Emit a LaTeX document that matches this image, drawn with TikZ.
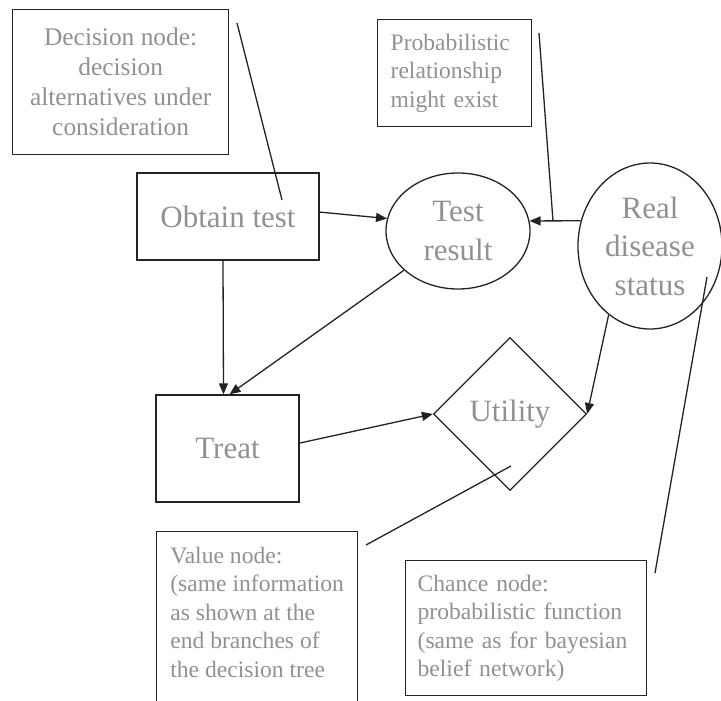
\documentclass[tikz,border=0pt]{standalone}
\usepackage{fontspec}
\setmainfont{Liberation Serif}
\usetikzlibrary{shapes.geometric,arrows.meta,calc}
\definecolor{inkline}{RGB}{35,35,35}
\definecolor{inktext}{RGB}{145,145,145}

\begin{document}
\begin{tikzpicture}[x=1pt,y=-1pt,
  edge/.style={draw=inkline,line width=1.3pt},
  arr/.style={edge,-{Triangle[length=11pt,width=9pt]}},
  box/.style={draw=inkline,line width=1.3pt,rectangle,inner sep=0pt,text=inktext},
  note/.style={box,anchor=north west},
  big/.style={font=\fontsize{31}{38.5}\selectfont},
  small/.style={font=\fontsize{23.6}{28.5}\selectfont},
  chance/.style={draw=inkline,line width=1.3pt,ellipse,inner sep=0pt,text=inktext,big,align=center},
]
\useasboundingbox (0,0) rectangle (721,701);

% explanatory notes
\node[note,minimum width=216,minimum height=145,align=center,
      font=\fontsize{25.4}{30}\selectfont] (decnote) at (12,9)
  {Decision node:\\decision\\alternatives under\\consideration};
\node[note,small,minimum width=154,minimum height=107,text width=128,
      inner xsep=13pt,align=left] (probnote) at (377,19)
  {Probabilistic\\relationship\\might exist};
\node[note,small,minimum width=201,minimum height=189,align=left] (valnote) at (156,531)
  {Value node:\\(same information\\as shown at the\\end branches of\\the decision tree\\\mbox{}};
\node[note,small,minimum width=241,minimum height=135,text width=217,
      inner xsep=12pt,align=left] (chnote) at (405,560)
  {Chance node:\\probabilistic function\\(same as for bayesian\\belief network)};

% influence diagram
\node[box,big,minimum width=182,minimum height=87] (obtain) at (228,216.5) {Obtain test};
\node[box,big,minimum width=143,minimum height=107] (treat) at (227.5,448.5) {Treat};
\node[chance,minimum width=144,minimum height=116] (test) at (458,231) {Test\\result};
\node[chance,minimum width=144,minimum height=166] (real) at (650,246) {Real\\disease\\status};
\node[diamond,aspect=1,draw=inkline,line width=1.3pt,inner sep=0pt,text=inktext,big,
      minimum width=153,minimum height=153] (utility) at (510,414) {Utility};

% pointer lines from the notes
\coordinate (decA) at (237,23);   \coordinate (decB) at (282,200);
\coordinate (probA) at (539,33);  \coordinate (probB) at (553,221);
\coordinate (valA) at (366,545);  \coordinate (valB) at (511,466);
\coordinate (chA) at (655,573);   \coordinate (chB) at (707,277);
\draw[edge] (decA) -- (decB);
\draw[edge] (probA) -- (probB);
\draw[edge] (valA) -- (valB);
\draw[edge] (chA) -- (chB);

% arcs
\draw[arr] ($(obtain.north east)!0.45!(obtain.south east)$) -- (test.170);
\draw[arr] (real.160) -- (test.8);
\draw[arr] ($(obtain.south)+(-5,0)$) -- ($(treat.north)+(-4,0)$);
\draw[arr] (test.216) -- ($(treat.north)+(2,0)$);
\draw[arr] ($(treat.north east)!0.45!(treat.south east)$) -- (utility.west);
\draw[arr] (real.239) -- (utility.east);
\end{tikzpicture}
\end{document}
